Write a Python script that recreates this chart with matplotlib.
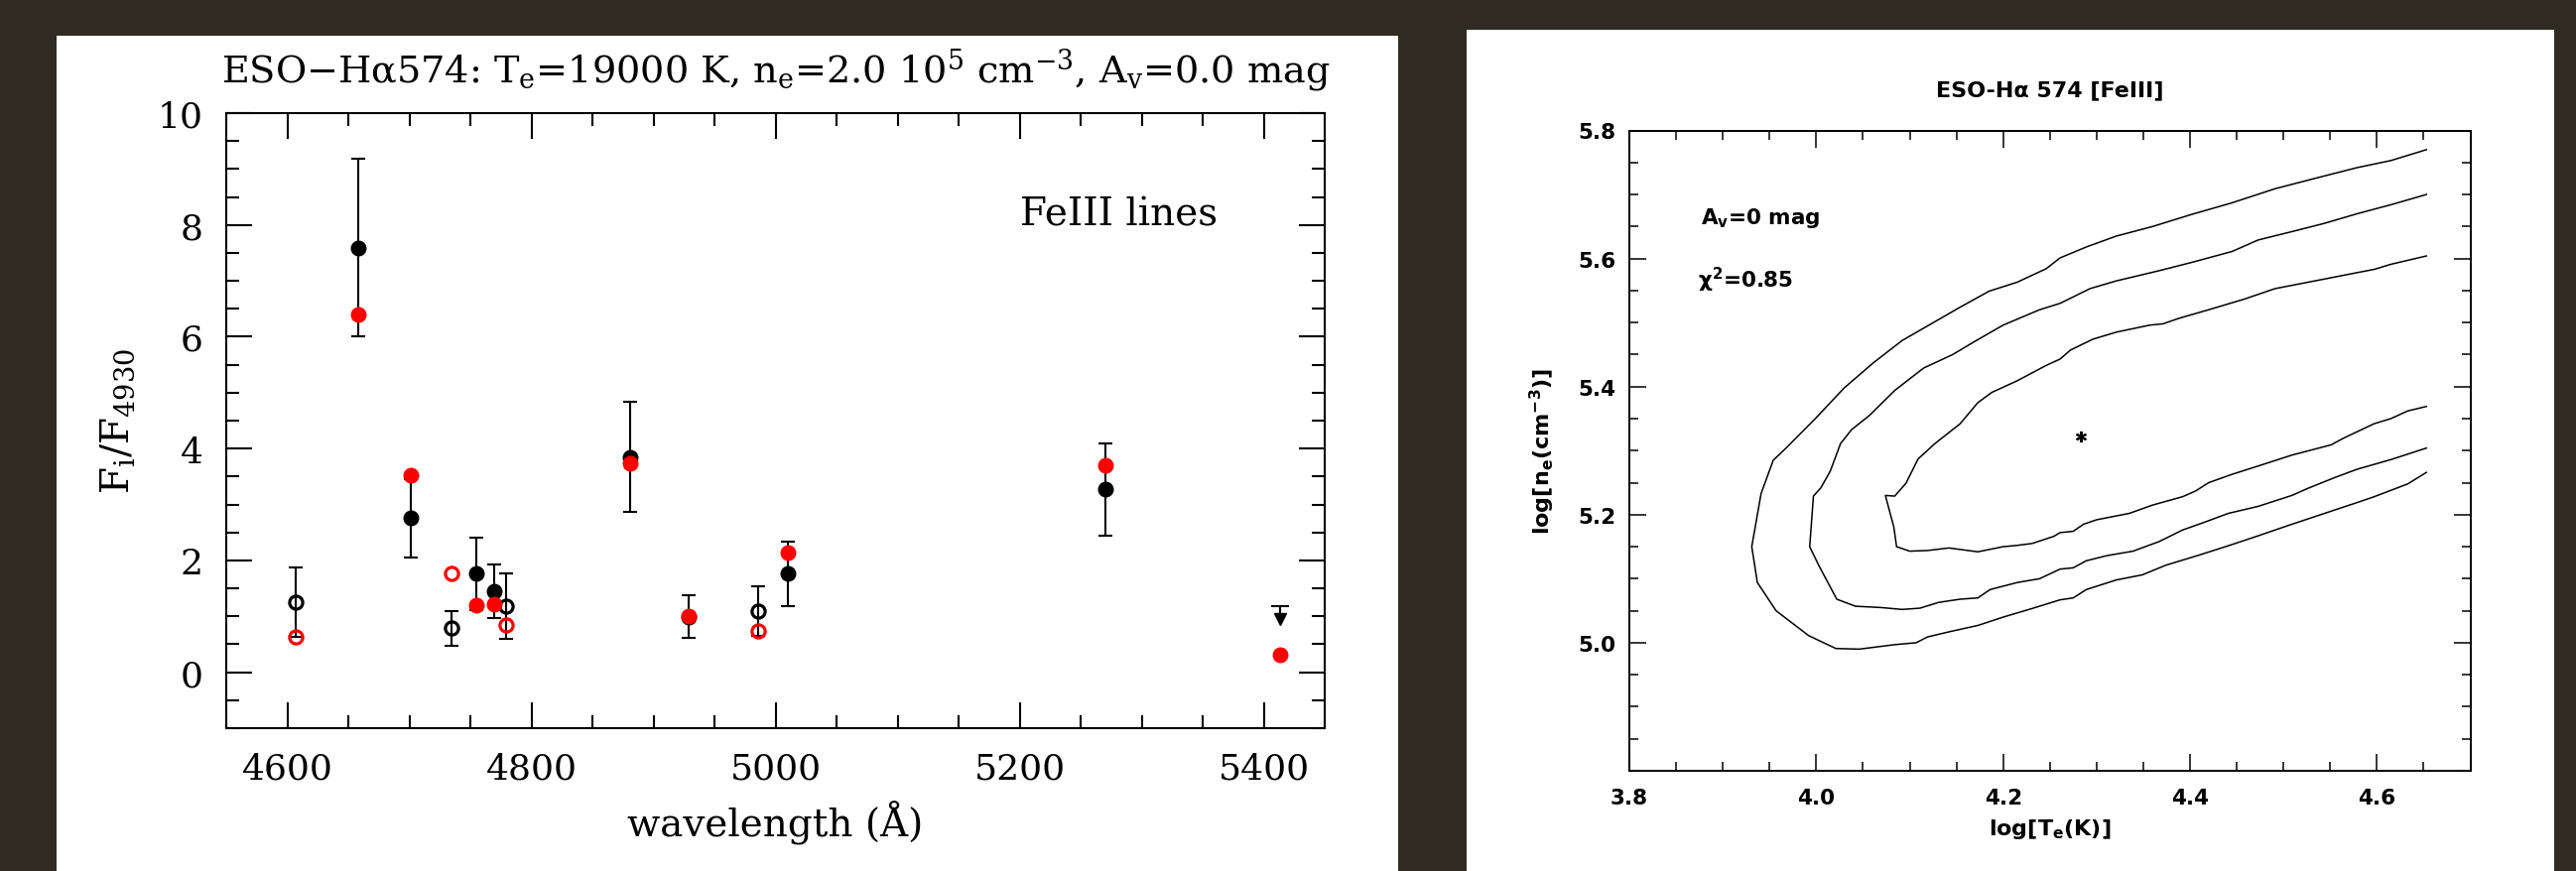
import matplotlib
matplotlib.use("Agg")
import matplotlib.pyplot as plt
from matplotlib.patches import Rectangle
from matplotlib.ticker import MultipleLocator, FixedLocator

plt.rcParams["mathtext.default"] = "regular"

# ---------------- FeIII line ratios F_i / F(4930) ----------------
wavelength = [4607, 4658, 4701, 4734, 4755, 4769, 4779, 4881, 4929, 4986, 5010, 5270]
observed = [1.26, 7.59, 2.76, 0.79, 1.76, 1.45, 1.18, 3.85, 0.99, 1.09, 1.76, 3.27]
obs_error = [0.62, 1.59, 0.70, 0.31, 0.64, 0.48, 0.58, 0.98, 0.38, 0.44, 0.57, 0.83]
blended = [True, False, False, True, False, False, True, False, False, True, False, False]

model_wavelength = [4607, 4658, 4701, 4734, 4755, 4769, 4779, 4881, 4929, 4986, 5010, 5270, 5413]
model_ratio = [0.63, 6.39, 3.52, 1.76, 1.20, 1.21, 0.85, 3.74, 1.00, 0.74, 2.14, 3.70, 0.31]
model_blended = [True, False, False, True, False, False, True, False, False, True, False, False, False]

upper_limit_wavelength = [5413]
upper_limit = [1.19]

# ---------------- chi^2 contours in the (log Te, log ne) plane ----------------
best_logT = [4.283]
best_logne = [5.322]

contour_outer_logT = [4.653, 4.615, 4.579, 4.544, 4.491, 4.445, 4.402, 4.360, 4.321, 4.289, 4.261,
                      4.246, 4.215, 4.185, 4.154, 4.123, 4.092, 4.061, 4.030, 3.999, 3.967, 3.954,
                      3.941, 3.931, 3.937, 3.957, 3.992, 4.021, 4.046, 4.084, 4.107, 4.119, 4.142,
                      4.173, 4.200, 4.230, 4.261, 4.275, 4.289, 4.321, 4.349, 4.374, 4.410, 4.438,
                      4.473, 4.509, 4.544, 4.579, 4.597, 4.633, 4.653]
contour_outer_logne = [5.770, 5.753, 5.742, 5.729, 5.709, 5.687, 5.669, 5.650, 5.635, 5.618, 5.601,
                       5.584, 5.563, 5.549, 5.524, 5.498, 5.472, 5.437, 5.398, 5.350, 5.303, 5.285,
                       5.233, 5.150, 5.094, 5.050, 5.011, 4.991, 4.990, 4.997, 5.000, 5.009, 5.017,
                       5.027, 5.040, 5.053, 5.067, 5.070, 5.083, 5.098, 5.106, 5.121, 5.137, 5.150,
                       5.167, 5.185, 5.202, 5.219, 5.228, 5.248, 5.266]

contour_middle_logT = [4.653, 4.615, 4.579, 4.544, 4.509, 4.473, 4.445, 4.402, 4.367, 4.321, 4.293,
                       4.261, 4.239, 4.200, 4.169, 4.146, 4.115, 4.084, 4.057, 4.038, 4.026, 4.015,
                       4.005, 3.997, 3.993, 4.003, 4.022, 4.042, 4.069, 4.092, 4.111, 4.131, 4.154,
                       4.173, 4.186, 4.215, 4.239, 4.261, 4.275, 4.289, 4.311, 4.339, 4.367, 4.392,
                       4.417, 4.441, 4.473, 4.509, 4.526, 4.555, 4.579, 4.615, 4.653]
contour_middle_logne = [5.700, 5.684, 5.670, 5.655, 5.642, 5.629, 5.611, 5.594, 5.581, 5.565, 5.553,
                        5.530, 5.520, 5.496, 5.470, 5.450, 5.429, 5.394, 5.355, 5.333, 5.311, 5.268,
                        5.242, 5.229, 5.150, 5.120, 5.068, 5.057, 5.055, 5.052, 5.054, 5.063, 5.068,
                        5.070, 5.083, 5.094, 5.100, 5.115, 5.117, 5.128, 5.136, 5.143, 5.158, 5.176,
                        5.189, 5.202, 5.213, 5.230, 5.241, 5.258, 5.271, 5.286, 5.304]

contour_inner_logT = [4.653, 4.615, 4.597, 4.579, 4.544, 4.491, 4.459, 4.420, 4.389, 4.371, 4.357,
                      4.321, 4.296, 4.272, 4.261, 4.246, 4.215, 4.188, 4.173, 4.154, 4.127, 4.109,
                      4.096, 4.084, 4.074, 4.083, 4.086, 4.100, 4.119, 4.142, 4.173, 4.200, 4.215,
                      4.231, 4.254, 4.261, 4.275, 4.286, 4.300, 4.314, 4.335, 4.360, 4.392, 4.406,
                      4.420, 4.445, 4.473, 4.509, 4.551, 4.565, 4.597, 4.615, 4.633, 4.653]
contour_inner_logne = [5.604, 5.591, 5.583, 5.578, 5.568, 5.553, 5.537, 5.520, 5.507, 5.498, 5.496,
                       5.485, 5.474, 5.457, 5.443, 5.433, 5.409, 5.391, 5.375, 5.342, 5.311, 5.287,
                       5.249, 5.229, 5.230, 5.181, 5.150, 5.143, 5.144, 5.148, 5.142, 5.150, 5.152,
                       5.155, 5.166, 5.172, 5.174, 5.185, 5.192, 5.196, 5.202, 5.215, 5.228, 5.237,
                       5.250, 5.263, 5.276, 5.293, 5.309, 5.320, 5.342, 5.350, 5.362, 5.369]

# ---------------- figure and panel backgrounds ----------------
W, H = 2596, 879
fig = plt.figure(figsize=(W / 100, H / 100), dpi=100, facecolor="#2f2b22")
fig.add_artist(Rectangle((57 / W, 0), (1409 - 57) / W, (H - 37) / H,
                         transform=fig.transFigure, facecolor="white", edgecolor="none", zorder=0))
fig.add_artist(Rectangle((1478 / W, 0), (2574 - 1478) / W, (H - 31) / H,
                         transform=fig.transFigure, facecolor="white", edgecolor="none", zorder=0))

# ================= left panel: line ratios =================
serif = "DejaVu Serif"
axL = fig.add_axes([228.3 / W, (H - 735) / H, (1335 - 228.3) / W, 620 / H])
axL.set_xlim(4550, 5450)
axL.set_ylim(-1, 10)

axL.errorbar(wavelength, observed, yerr=obs_error, fmt="none", ecolor="black",
             elinewidth=1.5, capsize=5.0, capthick=1.5, zorder=2)

filled_w = [w for w, b in zip(wavelength, blended) if not b]
filled_v = [v for v, b in zip(observed, blended) if not b]
open_w = [w for w, b in zip(wavelength, blended) if b]
open_v = [v for v, b in zip(observed, blended) if b]
axL.plot(filled_w, filled_v, "o", color="black", ms=10.5, zorder=3)
axL.plot(open_w, open_v, "o", mfc="none", mec="black", ms=9.5, mew=2.3, zorder=3)

mfilled_w = [w for w, b in zip(model_wavelength, model_blended) if not b]
mfilled_v = [v for v, b in zip(model_ratio, model_blended) if not b]
mopen_w = [w for w, b in zip(model_wavelength, model_blended) if b]
mopen_v = [v for v, b in zip(model_ratio, model_blended) if b]
axL.plot(mfilled_w, mfilled_v, "o", color="#ff0000", ms=10.5, zorder=4)
axL.plot(mopen_w, mopen_v, "o", mfc="none", mec="#ff0000", ms=9.5, mew=2.3, zorder=4)

# upper limit: capped stem with a downward arrow head
for w, u in zip(upper_limit_wavelength, upper_limit):
    axL.plot([w, w], [u, u - 0.3], color="black", lw=1.5, zorder=3)
    axL.plot([w], [u], "_", color="black", ms=13, mew=1.5, zorder=3)
    axL.plot([w], [u - 0.24], "v", color="black", ms=9, zorder=3)

axL.xaxis.set_major_locator(FixedLocator([4600, 4800, 5000, 5200, 5400]))
axL.xaxis.set_minor_locator(MultipleLocator(50))
axL.yaxis.set_major_locator(FixedLocator([0, 2, 4, 6, 8, 10]))
axL.yaxis.set_minor_locator(MultipleLocator(0.5))
axL.tick_params(which="both", direction="in", top=True, right=True, width=1.5, colors="black")
axL.tick_params(which="major", length=19)
axL.tick_params(which="minor", length=9.5)
axL.tick_params(axis="x", which="major", pad=17, labelsize=26)
axL.tick_params(axis="y", which="major", pad=17, labelsize=26)
for lab in axL.get_xticklabels() + axL.get_yticklabels():
    lab.set_family(serif)
for sp in axL.spines.values():
    sp.set_linewidth(1.5)

axL.text(0.5, 1.051,
         r"ESO$-$H$\alpha$574: T$_e$=19000 K, n$_e$=2.0 10$^5$ cm$^{-3}$, A$_v$=0.0 mag",
         transform=axL.transAxes, ha="center", va="baseline", fontsize=27.5, family=serif)
axL.text(5200, 8.0, "FeIII lines", ha="left", va="baseline", fontsize=28, family=serif)
axL.set_xlabel("wavelength (Å)", fontsize=28, family=serif)
axL.xaxis.label.set_verticalalignment("baseline")
axL.xaxis.set_label_coords(0.5, -0.175)
axL.set_ylabel(r"F$_i$/F$_{4930}$", fontsize=28, family=serif)
axL.yaxis.set_label_coords(-0.082, 0.5)

# ================= right panel: chi^2 map =================
sans = "DejaVu Sans"
axR = fig.add_axes([1642 / W, (H - 778) / H, 847.5 / W, 645.5 / H])
axR.set_xlim(3.8, 4.7)
axR.set_ylim(4.8, 5.8)

for cx, cy in [(contour_outer_logT, contour_outer_logne),
               (contour_middle_logT, contour_middle_logne),
               (contour_inner_logT, contour_inner_logne)]:
    axR.plot(cx, cy, color="black", lw=1.1)
axR.plot(best_logT, best_logne, marker=(6, 2, 0), color="black", ms=8, mew=1.5, ls="none")

axR.xaxis.set_major_locator(FixedLocator([3.8, 4.0, 4.2, 4.4, 4.6]))
axR.xaxis.set_minor_locator(MultipleLocator(0.05))
axR.yaxis.set_major_locator(FixedLocator([5.0, 5.2, 5.4, 5.6, 5.8]))
axR.yaxis.set_minor_locator(MultipleLocator(0.05))
axR.xaxis.set_major_formatter(plt.FormatStrFormatter("%.1f"))
axR.yaxis.set_major_formatter(plt.FormatStrFormatter("%.1f"))
axR.tick_params(which="both", direction="in", top=True, right=True, width=1.1, colors="black")
axR.tick_params(which="major", length=12.5)
axR.tick_params(which="minor", length=6.8)
axR.tick_params(axis="x", which="major", pad=12, labelsize=15.5)
axR.tick_params(axis="y", which="major", pad=10, labelsize=15.5)
for lab in axR.get_xticklabels() + axR.get_yticklabels():
    lab.set_family(sans)
    lab.set_fontweight("bold")
for sp in axR.spines.values():
    sp.set_linewidth(1.4)

axR.text(0.5, 1.0 + (133 - 98.3) / 645.5, "ESO-Hα 574 [FeIII]", transform=axR.transAxes,
         ha="center", va="baseline", fontsize=16, family=sans, fontweight="bold")
axR.text(3.876, 5.655, r"A$_v$=0 mag", ha="left", va="baseline", fontsize=15.5,
         family=sans, fontweight="bold")
axR.text(3.873, 5.556, r"χ$^2$=0.85", ha="left", va="baseline", fontsize=15.5,
         family=sans, fontweight="bold")
axR.set_xlabel(r"log[T$_e$(K)]", fontsize=16, family=sans, fontweight="bold")
axR.xaxis.set_label_coords(0.5, -(824 - 778) / 645.5)
axR.set_ylabel(r"log[n$_e$(cm$^{-3}$)]", fontsize=16, family=sans, fontweight="bold")
axR.yaxis.set_label_coords(-0.086, 0.5)

fig.savefig("out.png", dpi=100, facecolor=fig.get_facecolor())
